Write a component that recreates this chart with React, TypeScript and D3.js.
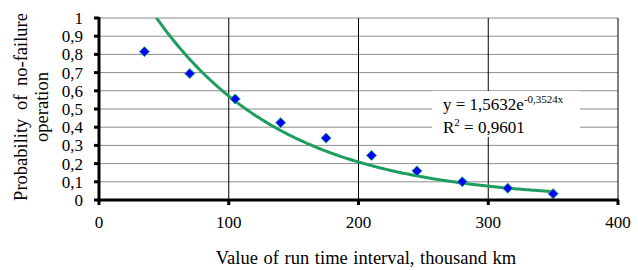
import React from "react";
import * as d3 from "d3";

// run time interval (thousand km) and observed probability
const runTime = [35, 70, 105, 140, 175, 210, 245, 280, 315, 350];
const probability = [0.815, 0.695, 0.555, 0.425, 0.34, 0.245, 0.16, 0.1, 0.065, 0.035];
const xTicks = [0, 100, 200, 300, 400];
const yTicks = [0, 0.1, 0.2, 0.3, 0.4, 0.5, 0.6, 0.7, 0.8, 0.9, 1];
// Excel exponential trend, x = point index
const trendA = 1.5632;
const trendB = -0.3524;
const step = 35;

const font = "Liberation Serif, DejaVu Serif, serif";

const App = () => {
  const width = 638;
  const height = 270;
  const margin = { top: 18, right: 20, bottom: 70, left: 99 };
  const innerWidth = width - margin.left - margin.right;
  const innerHeight = height - margin.top - margin.bottom;

  const xScale = d3.scaleLinear().domain([0, 400]).range([0, innerWidth]);
  const yScale = d3.scaleLinear().domain([0, 1]).range([innerHeight, 0]);

  const trendPts = d3.range(1, 10.001, 0.05).map((i) => [i * step, trendA * Math.exp(trendB * i)]);
  const line = d3
    .line<number[]>()
    .x((d) => xScale(d[0]))
    .y((d) => yScale(d[1]));

  const fmt = (v: number) => (v === 0 || v === 1 ? String(v) : v.toFixed(1).replace(".", ","));
  const diamond = "M0,-5L5,0L0,5L-5,0Z";

  return (
    <svg
      width={width}
      height={height}
      style={{ position: "absolute", left: 0, top: 0, background: "#fff", fontFamily: font }}
    >
      <defs>
        <clipPath id="plot">
          <rect x={0} y={0} width={innerWidth} height={innerHeight} />
        </clipPath>
      </defs>
      <g transform={`translate(${margin.left},${margin.top})`}>
        {
          // horizontal grid
          yTicks.map((t) => (
            <line key={t} x1={0} x2={innerWidth} y1={yScale(t)} y2={yScale(t)} stroke="#8c8c8c" strokeWidth={1} />
          ))
        }
        {
          // vertical grid
          xTicks.slice(1).map((t) => (
            <line key={t} x1={xScale(t)} x2={xScale(t)} y1={0} y2={innerHeight} stroke="#000" strokeWidth={1} />
          ))
        }
        {/* trendline label */}
        <rect x={333} y={73} width={148} height={46} fill="#fff" />
        <text x={344} y={92} fontSize={17} fill="#000">
          y = 1,5632e
          <tspan fontSize={11} dy={-7}>-0,3524x</tspan>
        </text>
        <text x={344} y={115} fontSize={17} fill="#000">
          R
          <tspan fontSize={11} dy={-7}>2</tspan>
          <tspan dy={7}> = 0,9601</tspan>
        </text>
        {/* trendline */}
        <path
          d={line(trendPts) ?? ""}
          fill="none"
          stroke="#1e9e5e"
          strokeWidth={3}
          clipPath="url(#plot)"
        />
        {
          // points
          runTime.map((x, i) => (
            <path
              key={x}
              transform={`translate(${xScale(x)},${yScale(probability[i])})`}
              d={diamond}
              fill="#0000ff"
              stroke="#1fae6a"
              strokeWidth={1}
            />
          ))
        }
        {/* axes */}
        <line x1={0} x2={0} y1={-1} y2={innerHeight + 2} stroke="#000" strokeWidth={3} />
        <line x1={-2} x2={innerWidth + 1} y1={innerHeight} y2={innerHeight} stroke="#000" strokeWidth={3} />
        {yTicks.map((t) => (
          <g key={t} transform={`translate(0,${yScale(t)})`}>
            <line x1={-5} x2={0} stroke="#000" strokeWidth={3} />
            <text x={-16} dy=".35em" textAnchor="end" fontSize={17}>
              {fmt(t)}
            </text>
          </g>
        ))}
        {xTicks.map((t) => (
          <g key={t} transform={`translate(${xScale(t)},${innerHeight})`}>
            <line y1={0} y2={5} stroke="#000" strokeWidth={3} />
            <text y={28} textAnchor="middle" fontSize={17}>
              {t}
            </text>
          </g>
        ))}
      </g>
      <text x={366} y={264} textAnchor="middle" fontSize={18.5} wordSpacing={1}>
        Value of run time interval, thousand km
      </text>
      <g transform="translate(27,107) rotate(-90)">
        <text textAnchor="middle" fontSize={18.5} wordSpacing={4}>
          Probability of no-failure
        </text>
        <text y={21} textAnchor="middle" fontSize={18.5}>
          operation
        </text>
      </g>
    </svg>
  );
};

export default App;
